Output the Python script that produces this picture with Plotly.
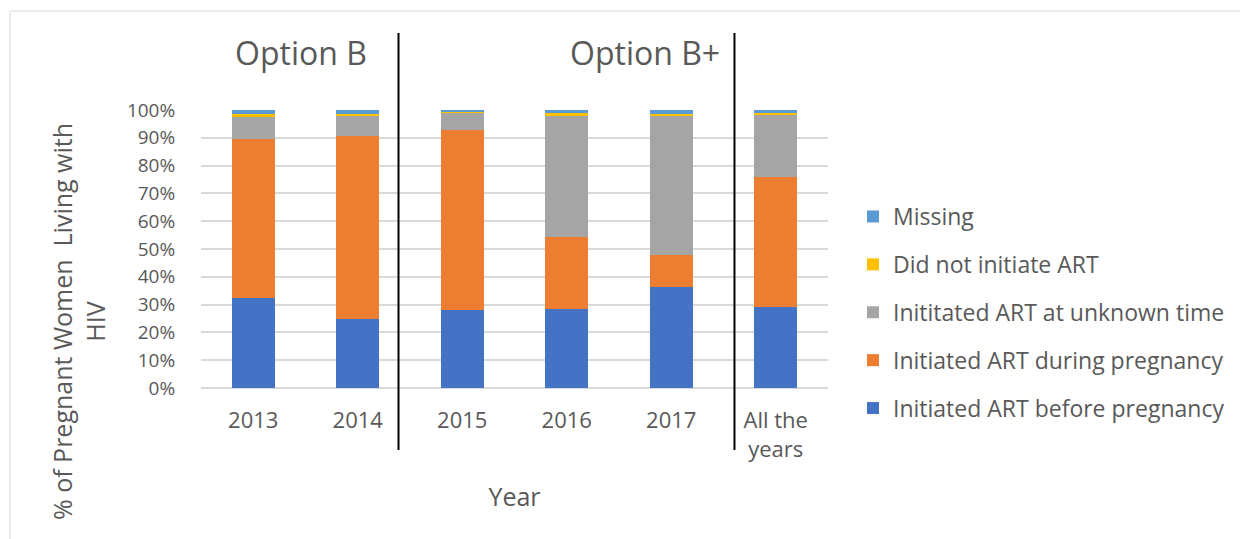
import plotly.graph_objects as go

categories = ["2013", "2014", "2015", "2016", "2017", "All the<br>years"]
before_pregnancy = [32.3, 24.8, 28.1, 28.4, 36.3, 29.1]
during_pregnancy = [57.3, 65.8, 64.7, 25.9, 11.5, 46.8]
unknown_time = [7.8, 7.3, 6.2, 43.6, 50.1, 22.3]
did_not_initiate = [1.0, 0.7, 0.6, 0.9, 0.8, 0.6]
missing = [1.6, 1.4, 0.4, 1.2, 1.3, 1.2]

series = [
    ("Initiated ART before pregnancy", before_pregnancy, "#4472C4"),
    ("Initiated ART during pregnancy", during_pregnancy, "#ED7D31"),
    ("Inititated ART at unknown time", unknown_time, "#A5A5A5"),
    ("Did not initiate ART", did_not_initiate, "#FFC000"),
    ("Missing", missing, "#5B9BD5"),
]

FONT = "Open Sans"
GREY = "#595959"

fig = go.Figure()
for i, (name, vals, color) in enumerate(series):
    fig.add_trace(go.Bar(
        x=categories, y=[v / 100 for v in vals], name=name,
        marker=dict(color=color, line=dict(width=0)),
        legendgroup=name, legendrank=1000 - i,
    ))

# page body has an 8px margin; positions below are window pixels
OFF = 8
W, H = 1248 - OFF, 539 - OFF
L, R, T, B = 201 - OFF, 828 - OFF, 110 - OFF, 388 - OFF
def px(xw):
    return (xw - OFF - L) / (R - L)
def py(yw):
    return (B - (yw - OFF)) / (B - T)

fig.update_layout(
    width=W, height=H,
    margin=dict(l=L, r=W - R, t=T, b=H - B),
    barmode="stack", bargap=0.59,
    plot_bgcolor="white", paper_bgcolor="white",
    font=dict(family=FONT, color=GREY, size=19),
    legend=dict(
        traceorder="grouped", x=px(853), xanchor="left", y=py(195), yanchor="top",
        font=dict(size=23, color=GREY), tracegroupgap=15,
        itemwidth=30,
    ),
    xaxis=dict(
        type="category", showgrid=False, showline=False, zeroline=False,
        ticks="outside", ticklen=13, tickcolor="rgba(0,0,0,0)",
        tickfont=dict(size=22, color=GREY),
        title=dict(text="Year", font=dict(size=25, color=GREY), standoff=26),
    ),
    yaxis=dict(
        range=[0, 1], dtick=0.1, tickformat=".0%",
        showgrid=True, gridcolor="#D9D9D9", gridwidth=1.5,
        zeroline=True, zerolinecolor="#D9D9D9", zerolinewidth=1.5,
        showline=False,
        ticks="outside", ticklen=21, tickcolor="rgba(0,0,0,0)",
        tickfont=dict(size=19, color=GREY),
    ),
    shapes=[
        dict(type="line", xref="x", yref="paper", x0=1.39, x1=1.39, y0=py(33), y1=py(450),
             line=dict(color="black", width=2)),
        dict(type="line", xref="x", yref="paper", x0=4.605, x1=4.605, y0=py(33), y1=py(450),
             line=dict(color="black", width=2)),
        dict(type="rect", xref="paper", yref="paper", x0=px(10), x1=px(1270), y0=py(11), y1=py(560),
             line=dict(color="#D9D9D9", width=1), layer="below"),
    ],
    annotations=[
        dict(text="Option B", xref="paper", yref="paper", x=px(301), y=py(53),
             showarrow=False, font=dict(size=32, color=GREY), xanchor="center", yanchor="middle"),
        dict(text="Option B+", xref="paper", yref="paper", x=px(645), y=py(53),
             showarrow=False, font=dict(size=32, color=GREY), xanchor="center", yanchor="middle"),
        dict(text="% of Pregnant Women&nbsp; Living with<br>HIV", xref="paper", yref="paper",
             x=px(78), y=py(322), textangle=-90, showarrow=False,
             font=dict(size=25, color=GREY), xanchor="center", yanchor="middle"),
    ],
)

fig.write_html("out.html")
